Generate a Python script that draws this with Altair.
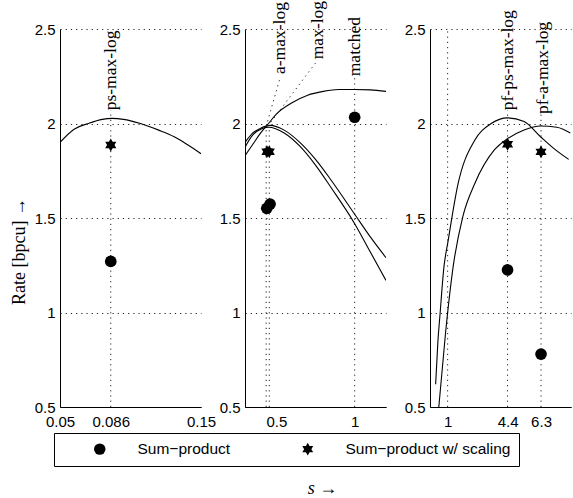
import altair as alt
import pandas as pd

# ---------------- data ----------------
PANELS = ["p1", "p2", "p3"]
X_DOMAINS = {"p1": [0.05, 0.15], "p2": [0.3, 1.2], "p3": [0.0, 8.0]}
X_TICKS = {"p1": [0.05, 0.086, 0.15], "p2": [0.5, 1], "p3": [1, 4.4, 6.3]}
Y_TICKS = [0.5, 1, 1.5, 2, 2.5]

# panel 1 curve (ps-max-log)
C1_S = [0.05, 0.06, 0.07, 0.08, 0.087, 0.095, 0.107, 0.12, 0.131, 0.14, 0.15]
C1_R = [1.90, 1.97, 2.00, 2.022, 2.027, 2.022, 2.00, 1.965, 1.93, 1.89, 1.84]

# panel 2 curves
C2A_S = [0.30, 0.35, 0.40, 0.45, 0.50, 0.60, 0.70, 0.80, 0.90, 1.00, 1.10, 1.20]
C2A_R = [1.83, 1.89, 1.95, 2.00, 2.05, 2.11, 2.15, 2.17, 2.18, 2.18, 2.178, 2.17]
C2B_S = [0.30, 0.35, 0.40, 0.46, 0.55, 0.65, 0.75, 0.85, 1.00, 1.10, 1.20]
C2B_R = [1.90, 1.95, 1.975, 1.99, 1.965, 1.90, 1.81, 1.70, 1.52, 1.40, 1.29]
C2C_S = [0.30, 0.35, 0.40, 0.45, 0.55, 0.65, 0.75, 0.85, 1.00, 1.10, 1.20]
C2C_R = [1.875, 1.94, 1.97, 1.98, 1.95, 1.88, 1.78, 1.66, 1.47, 1.32, 1.17]

# panel 3 curves
C3PS_S = [0.32, 0.45, 0.56, 0.79, 1.03, 1.59, 2.53, 3.47, 4.4, 5.34, 6.27, 7.0, 7.87]
C3PS_R = [0.62, 0.85, 0.98, 1.24, 1.38, 1.68, 1.91, 2.00, 2.03, 2.01, 1.93, 1.87, 1.81]
C3A_S = [0.5, 0.88, 1.31, 1.87, 2.53, 3.65, 4.4, 5.34, 6.27, 7.2, 7.96]
C3A_R = [0.5, 0.89, 1.24, 1.51, 1.68, 1.86, 1.92, 1.966, 1.987, 1.98, 1.95]

# simulated points
TYPES = ["Sum\u2212product", "Sum\u2212product w/ scaling"]
PT_PANEL = ["p1", "p1", "p2", "p2", "p2", "p2", "p2", "p3", "p3", "p3", "p3"]
PT_S = [0.086, 0.086, 0.439, 0.46, 0.44, 0.455, 1.0, 4.4, 6.3, 4.4, 6.3]
PT_R = [1.27, 1.886, 1.551, 1.574, 1.851, 1.851, 2.033, 1.225, 0.78, 1.89, 1.85]
PT_TYPE = [0, 1, 0, 0, 1, 1, 0, 0, 0, 1, 1]

# annotations
ANN_PANEL = ["p1", "p2", "p2", "p2", "p3", "p3"]
ANN_TEXT = ["ps-max-log", "a-max-log", "max-log", "matched", "pf-ps-max-log", "pf-a-max-log"]
ANN_S = [0.086, 0.523, 0.768, 1.0, 4.42, 6.4]
ANN_R = [2.07, 2.262, 2.34, 2.25, 2.07, 2.05]

# vertical dotted guide lines
VG_PANEL = ["p1", "p2", "p2", "p2", "p3", "p3", "p3"]
VG_S = [0.086, 0.435, 0.455, 1.0, 1, 4.4, 6.3]
VG_R0 = [0.5, 0.5, 0.5, 0.5, 0.5, 0.5, 0.5]
VG_R1 = [2.07, 1.985, 1.985, 2.25, 2.5, 2.07, 2.05]

# slanted dotted leader lines (panel 2)
LD_ID = ["a", "a", "m", "m"]
LD_S = [0.435, 0.52, 0.445, 0.75]
LD_R = [1.985, 2.23, 1.985, 2.32]

# ---------------- tables ----------------
rows = []
for pan, cid, ss, rr in [("p1", "c1", C1_S, C1_R), ("p2", "a", C2A_S, C2A_R),
                         ("p2", "b", C2B_S, C2B_R), ("p2", "c", C2C_S, C2C_R),
                         ("p3", "ps", C3PS_S, C3PS_R), ("p3", "a", C3A_S, C3A_R)]:
    for i, (s, r) in enumerate(zip(ss, rr)):
        rows.append({"panel": pan, "curve": cid, "idx": i, "s": s, "r": r})
curves = pd.DataFrame(rows)
points = pd.DataFrame({"panel": PT_PANEL, "s": PT_S, "r": PT_R,
                       "type": [TYPES[t] for t in PT_TYPE]})
ann = pd.DataFrame({"panel": ANN_PANEL, "text": ANN_TEXT, "s": ANN_S, "r": ANN_R})
vg = pd.DataFrame({"panel": VG_PANEL, "s": VG_S, "r0": VG_R0, "r1": VG_R1})
ld = pd.DataFrame({"panel": "p2", "id": LD_ID, "s": LD_S, "r": LD_R,
                   "idx": list(range(len(LD_S)))})

# six-pointed star (hexagram) symbol path
STAR = ("M0,-1.1L0.3175,-0.55L0.9526,-0.55L0.6351,0L0.9526,0.55L0.3175,0.55L0,1.1"
        "L-0.3175,0.55L-0.9526,0.55L-0.6351,0L-0.9526,-0.55L-0.3175,-0.55Z")

SANS = "Liberation Sans"
SERIF = "Liberation Serif"
DOT = [1.2, 4]

W, H = 141, 378

# legend frame in the reference runs on to the right edge of the figure
NBSP = "\u00a0" * 13
LEGEND_LABEL = "datum.label + (datum.index == 1 ? '" + NBSP + "' : '')"


def panel(p):
    xaxis_kw = dict(values=X_TICKS[p], labelExpr="'' + datum.value", grid=False,
                    ticks=False, domainColor="black", domainWidth=1,
                    labelFont=SANS, labelFontSize=15, labelColor="black",
                    labelPadding=7, labelFlush=False, labelOverlap=False)
    if p == "p2":
        xaxis = alt.Axis(title="s \u2192", titleFont=SERIF, titleFontSize=18,
                         titleFontStyle="italic", titleFontWeight="normal",
                         titleColor="black", titleX=77, titleY=72, **xaxis_kw)
    else:
        xaxis = alt.Axis(title=None, **xaxis_kw)
    yaxis_kw = dict(values=Y_TICKS, labelExpr="'' + datum.value", grid=True,
                    gridDash=DOT, gridColor="#222", gridWidth=1, ticks=False,
                    domainColor="black", domainWidth=1, labelFont=SANS,
                    labelFontSize=15, labelColor="black", labelPadding=5,
                    labelOverlap=False, labelFlush=False)
    if p == "p1":
        yaxis = alt.Axis(title="Rate [bpcu] \u2192", titleFont=SERIF,
                         titleFontSize=18, titleFontWeight="normal",
                         titleColor="black", titleX=-32, titleY=222, **yaxis_kw)
    else:
        yaxis = alt.Axis(title=None, **yaxis_kw)

    xs = alt.Scale(domain=X_DOMAINS[p], nice=False, zero=False)
    ys = alt.Scale(domain=[0.5, 2.5], nice=False, zero=False)

    lines = alt.Chart(curves).transform_filter(alt.datum.panel == p).mark_line(
        color="black", strokeWidth=1.1, interpolate="monotone", clip=True
    ).encode(
        x=alt.X("s:Q", scale=xs, axis=xaxis),
        y=alt.Y("r:Q", scale=ys, axis=yaxis),
        detail="curve:N",
        order="idx:Q",
    )
    guides = alt.Chart(vg).transform_filter(alt.datum.panel == p).mark_rule(
        color="#222", strokeWidth=1, strokeDash=DOT
    ).encode(x="s:Q", y="r0:Q", y2="r1:Q")
    layers = [guides, lines]
    if p == "p2":
        leaders = alt.Chart(ld).mark_line(
            color="#222", strokeWidth=1, strokeDash=DOT
        ).encode(x="s:Q", y="r:Q", detail="id:N", order="idx:Q")
        layers.append(leaders)
    pts = alt.Chart(points).transform_filter(alt.datum.panel == p).mark_point(
        filled=True, opacity=1, color="black", strokeWidth=0, size=137
    ).encode(
        x="s:Q", y="r:Q",
        shape=alt.Shape("type:N", scale=alt.Scale(domain=TYPES, range=["circle", STAR]),
                        legend=alt.Legend(
                            title=None, orient="none", legendX=-6, legendY=404,
                            direction="horizontal", columns=2,
                            strokeColor="black", fillColor="white", padding=8,
                            symbolOffset=30, labelOffset=30, columnPadding=39,
                            labelFont=SANS, labelFontSize=15.5, labelColor="black",
                            labelLimit=600, labelExpr=LEGEND_LABEL,
                            symbolSize=130, symbolFillColor="black",
                            symbolStrokeColor="black", symbolStrokeWidth=0)),
    )
    txt = alt.Chart(ann).transform_filter(alt.datum.panel == p).mark_text(
        angle=270, align="left", baseline="middle", font=SERIF, fontSize=17.5,
        color="black"
    ).encode(x="s:Q", y="r:Q", text="text:N")
    layers += [pts, txt]
    return alt.layer(*layers).properties(width=W, height=H)


chart = alt.hconcat(
    *[panel(p) for p in PANELS], spacing=44, bounds="flush"
).resolve_scale(
    x="independent", shape="shared"
).resolve_legend(shape="shared").properties(
    autosize=alt.AutoSizeParams(type="none"),
    padding={"left": 60, "top": 29, "right": 513, "bottom": 469},
    background="white",
).configure_view(stroke=None)

chart.save("out.html", embed_options={"renderer": "svg", "actions": False})
